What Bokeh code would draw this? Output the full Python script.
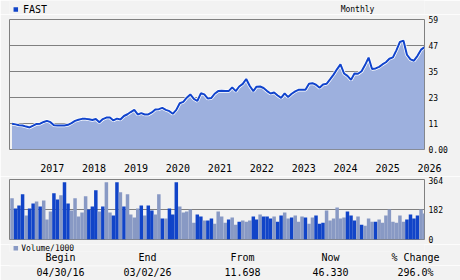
from datetime import datetime
import pandas as pd
from bokeh.plotting import figure
from bokeh.models import Range1d, FixedTicker, ColumnDataSource, LinearAxis
from bokeh.core.properties import value
from bokeh.layouts import column
from bokeh.embed import file_html
from bokeh.resources import INLINE

symbol = "FAST"
period = "Monthly"
first_month = "2016-05-01"

price = [11.7, 11.4, 11.0, 10.9, 10.4, 10.0, 10.8, 11.6, 11.7, 12.5,
         13.0, 12.4, 11.0, 10.9, 10.9, 10.9, 11.2, 12.0, 13.0, 13.5,
         13.9, 13.9, 13.7, 13.4, 13.8, 12.4, 13.8, 14.5, 14.5, 13.2,
         14.0, 13.6, 15.2, 16.0, 17.0, 18.0, 15.9, 16.5, 15.9, 15.9,
         16.8, 18.2, 18.3, 18.9, 18.0, 17.4, 16.2, 18.0, 21.0, 21.6,
         23.5, 25.0, 23.0, 22.0, 25.5, 25.0, 23.1, 23.4, 25.3, 26.5,
         26.7, 26.5, 26.5, 28.2, 26.5, 28.6, 29.8, 32.0, 28.8, 26.5,
         28.5, 28.6, 27.9, 26.5, 25.4, 25.9, 24.5, 23.4, 25.5, 23.8,
         25.3, 26.4, 27.1, 27.1, 27.1, 29.8, 30.1, 29.4, 28.0, 29.5,
         29.8, 31.8, 34.0, 36.5, 38.6, 34.5, 33.4, 31.6, 34.5, 34.4,
         35.5, 38.3, 41.7, 36.5, 36.8, 37.5, 38.6, 39.6, 41.2, 41.8,
         45.0, 48.8, 49.4, 43.0, 40.9, 40.3, 42.5, 45.3, 46.33]

volume = [250, 188, 207, 274, 145, 188, 219, 231, 200, 237,
          121, 170, 280, 243, 268, 348, 219, 176, 250, 139,
          164, 262, 182, 200, 299, 170, 200, 348, 164, 145,
          348, 286, 200, 274, 151, 133, 188, 207, 145, 207,
          176, 151, 274, 127, 127, 188, 151, 348, 200, 164,
          170, 182, 102, 151, 139, 115, 115, 127, 96,
          170, 139, 102, 121, 133, 90, 108, 115, 108, 115,
          139, 121, 151, 139, 139, 127, 139, 108, 145, 164,
          127, 133, 145, 108, 139, 133, 96, 133, 145, 96,
          102, 176, 115, 127, 194, 127, 133, 170, 145, 115,
          139, 90, 84, 127, 108, 108, 121, 102, 145, 182,
          108, 102, 145, 108, 121, 151, 127, 145, 182, 157]

volume_dark = [0, 1, 1, 1, 0, 1, 1, 0, 1, 0,
               0, 0, 1, 1, 0, 1, 1, 0, 0, 0,
               0, 0, 1, 1, 1, 0, 1, 0, 0, 1,
               1, 0, 1, 0, 0, 0, 0, 1, 0, 1,
               1, 0, 0, 1, 0, 1, 1, 1, 0, 0,
               0, 0, 0, 1, 1, 0, 1, 1, 0,
               0, 0, 0, 1, 0, 0, 1, 0, 0, 0,
               1, 1, 0, 1, 1, 1, 0, 1, 1, 0,
               0, 1, 0, 0, 0, 1, 0, 0, 1, 1,
               1, 0, 0, 0, 0, 0, 0, 1, 1, 1,
               0, 1, 0, 0, 0, 1, 0, 0, 0, 0,
               0, 0, 0, 0, 1, 1, 1, 1, 0, 0]

years = ["2017", "2018", "2019", "2020", "2021", "2022", "2023", "2024", "2025", "2026"]
price_ticks = [0, 11.8, 23.6, 35.4, 47.2, 59]
price_tick_labels = ["0.00", "11", "23", "35", "47", "59"]
volume_ticks = [0, 182, 364]
volume_tick_labels = ["0", "182", "364"]
volume_legend = "Volume/1000"
summary_heads = ["Begin", "End", "From", "Now", "% Change"]
summary_values = ["04/30/16", "03/02/26", "11.698", "46.330", "296.0%"]

# ---- styles / layout constants ----
W = 460
BG = "#f2f2f2"
FRAME = "#808080"
AREA = "#9db0de"
LINE = "#1144cc"
DARK = "#1144c8"
LIGHT = "#8899c4"
MONO = "DejaVu Sans Mono"
FRAME_L, FRAME_W, FRAME_R = 9, 415, 36
px_range = Range1d(FRAME_L, W - FRAME_R)   # canvas pixels across the aligned frame

dates = pd.date_range(first_month, periods=len(price), freq="MS")
x_start, x_end = pd.Timestamp("2016-04-09"), pd.Timestamp("2026-03-03")
x_range = Range1d(x_start.to_pydatetime(), x_end.to_pydatetime())
per_px = (x_end - x_start) / FRAME_W
month_ms = 30.4 * 86400000

# Year labels start at 1 January.  Axis labels are centred on their tick, so each
# tick sits half a label later; the last one carries two leading no-break spaces
# so that its tick stays inside the range.
CHAR = 0.602 * 10
NBSP = "\u00a0"
year_ticks, year_labels = [], []
for y in years:
    pad = 2 if y == years[-1] else 0
    t = pd.Timestamp(f"{y}-01-01") + ((4 - pad) * CHAR / 2) * per_px
    year_ticks.append(t.value / 1e6)
    year_labels.append(NBSP * pad + y)


def text_axis(ax, size, standoff):
    ax.axis_line_color = None
    ax.major_tick_line_color = None
    ax.minor_tick_line_color = None
    ax.major_tick_out = 0
    ax.major_tick_in = 0
    ax.major_label_standoff = standoff
    ax.major_label_text_font = MONO
    ax.major_label_text_font_size = size
    ax.major_label_text_color = "#000000"


def style_fig(p, ticks, labels):
    p.background_fill_color = BG
    p.border_fill_color = BG
    p.outline_line_color = FRAME
    p.outline_line_width = 1
    p.xgrid.visible = False
    ax = p.yaxis[0]
    ax.ticker = FixedTicker(ticks=ticks)
    ax.major_label_overrides = dict(zip(ticks, labels))
    text_axis(ax, "8px", 4)
    p.ygrid.grid_line_color = FRAME
    p.ygrid.grid_line_width = 1


def strip_fig(height, bottom=0):
    p = figure(width=W, height=height, x_range=px_range, y_range=Range1d(height - bottom, 0),
               x_axis_location=None, y_axis_location=None, toolbar_location=None,
               output_backend="svg", min_border_left=FRAME_L, min_border_right=FRAME_R,
               min_border_top=0, min_border_bottom=bottom, outline_line_color=None,
               background_fill_color=BG, border_fill_color=BG)
    p.grid.visible = False
    return p


def row_axis(p, ticks, labels):
    ax = LinearAxis(ticker=FixedTicker(ticks=ticks),
                    major_label_overrides=dict(zip(ticks, labels)))
    text_axis(ax, "10px", 0)
    p.add_layout(ax, "below")


def put_text(p, x, y, text, size, align="center"):
    p.text(x=x, y=y, text=text, text_align=align, text_baseline="middle",
           text_font=value(MONO), text_font_size=value(size), text_color="#000000")


# ---- header strip ----
head = strip_fig(14)
head.scatter(x=[15.3], y=[9], marker="square", size=4.5, fill_color=DARK, line_color=None)
put_text(head, [22.5], [9], [symbol], "10px", align="left")
put_text(head, [357], [9], [period], "8px")

# ---- price panel ----
p1 = figure(width=W, height=162, x_axis_type="datetime", x_axis_location="below",
            y_axis_location="right", toolbar_location=None, output_backend="svg",
            x_range=x_range, y_range=Range1d(0, 59),
            min_border_left=FRAME_L, min_border_right=FRAME_R, min_border_top=5,
            min_border_bottom=27)
style_fig(p1, price_ticks, price_tick_labels)
p1.xaxis.ticker = FixedTicker(ticks=year_ticks)
p1.xaxis.major_label_overrides = dict(zip(year_ticks, year_labels))
text_axis(p1.xaxis[0], "10px", 13)

src = ColumnDataSource(dict(x=dates, y=price, y0=[0] * len(price)))
p1.varea(x="x", y1="y0", y2="y", source=src, fill_color=AREA)
p1.line(x="x", y="y", source=src, line_color="#ffffff", line_width=3.5)
p1.line(x="x", y="y", source=src, line_color=LINE, line_width=2)

# ---- volume panel ----
p2 = figure(width=W, height=68, x_axis_type="datetime", x_axis_location=None,
            y_axis_location="right", toolbar_location=None, output_backend="svg",
            x_range=x_range, y_range=Range1d(0, 364),
            min_border_left=FRAME_L, min_border_right=FRAME_R, min_border_top=3,
            min_border_bottom=5)
style_fig(p2, volume_ticks, volume_tick_labels)

vsrc = ColumnDataSource(dict(x=dates, top=volume,
                             color=[DARK if d else LIGHT for d in volume_dark]))
p2.vbar(x="x", top="top", width=month_ms, source=vsrc, fill_color="color",
        line_color=None)

# ---- legend + summary strips ----
col_x = [60, 147, 242, 330, 415]
foot1 = strip_fig(21, bottom=14)
foot1.scatter(x=[15.3], y=[3.8], marker="square", size=4.5, fill_color=LIGHT, line_color=None)
put_text(foot1, [20.7], [3.8], [volume_legend], "8px", align="left")
row_axis(foot1, col_x, summary_heads)

foot2 = strip_fig(15, bottom=14)
row_axis(foot2, col_x, summary_values)

layout = column(head, p1, p2, foot1, foot2, spacing=0)
open("out.html", "w").write(file_html(layout, INLINE))
